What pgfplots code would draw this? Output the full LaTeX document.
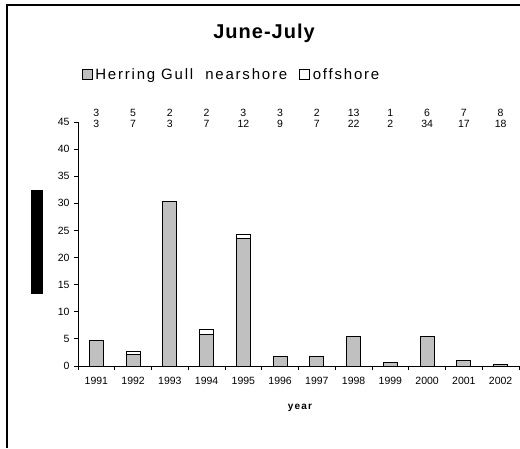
\documentclass[border=0pt]{standalone}
\usepackage{pgfplots}
\pgfplotsset{compat=1.18}
\usepackage{fontspec}
\setmainfont{Liberation Sans}
\newfontfamily\spaced[LetterSpace=12]{Liberation Sans}
\newfontfamily\titlefont[LetterSpace=5]{Liberation Sans}
\definecolor{bargray}{RGB}{192,192,192}

\begin{document}
\begin{tikzpicture}[x=1pt,y=1pt]
\useasboundingbox (0,0) rectangle (520,-448);
% frame of the chart area (cut by the page at right and bottom)
\draw[line width=1.5pt] (7,-448) -- (7,-5) -- (520,-5);
\node[font=\titlefont\bfseries\fontsize{20}{20}\selectfont] at (264,-33) {June-July};
\fill (31,-190) rectangle (43,-294);
\node[font=\spaced\bfseries\fontsize{10}{10}\selectfont] at (300,-408) {year};

\begin{axis}[
    at={(78pt,-366pt)}, anchor=south west,
    scale only axis, width=441pt, height=244pt,
    xmin=-0.5, xmax=11.5, ymin=0, ymax=45,
    axis x line=bottom, axis y line=left,
    axis line style={-, line width=0.8pt},
    ybar stacked, bar width=14pt,
    xtick={0,...,11},
    xticklabels={1991,1992,1993,1994,1995,1996,1997,1998,1999,2000,2001,2002},
    minor xtick={-0.5,0.5,...,11.5},
    major x tick style={draw=none},
    minor tick length=4pt,
    ytick={0,5,...,45}, major tick length=4pt,
    tick align=outside, tick style={black, line width=0.8pt},
    ticklabel style={font=\fontsize{10.5}{10.5}\selectfont},
    /pgf/number format/assume math mode=true,
    xticklabel style={yshift=-4pt},
    yticklabel style={xshift=-1pt},
    legend style={draw=none, fill=none, legend columns=2, at={(0.008,1.195)}, anchor=west,
        font=\spaced\fontsize{15}{15}\selectfont, inner sep=0pt,
        /tikz/every odd column/.append style={column sep=1pt},
        /tikz/every even column/.append style={column sep=10pt}},
    legend image code/.code={\draw[#1,draw=black,line width=0.6pt] (0pt,-4.5pt) rectangle (10pt,5pt);},
]
\addplot[fill=bargray, draw=black, line width=0.8pt] coordinates {
    (0,4.7) (1,2.2) (2,30.4) (3,5.9) (4,23.5) (5,1.8)
    (6,1.8) (7,5.4) (8,0.7) (9,5.4) (10,1.0) (11,0.3)
};
\addplot[fill=white, draw=black, line width=0.8pt] coordinates {
    (0,0) (1,0.5) (2,0) (3,0.8) (4,0.7) (5,0)
    (6,0) (7,0) (8,0) (9,0) (10,0) (11,0)
};
\legend{Herring Gull\ \ nearshore, offshore}
\end{axis}

% sample counts above the bars
\begin{axis}[
    at={(78pt,-366pt)}, anchor=south west,
    scale only axis, width=441pt, height=244pt,
    xmin=-0.5, xmax=11.5, ymin=0, ymax=45,
    separate axis lines,
    axis x line*=top, hide y axis,
    x axis line style={draw=none},
    xtick={0,...,11}, major tick length=0pt,
    xticklabels={{3\\3},{5\\7},{2\\3},{2\\7},{3\\12},{3\\9},{2\\7},{13\\22},{1\\2},{6\\34},{7\\17},{8\\18}},
    xticklabel style={align=center, font=\fontsize{10.5}{11}\selectfont, yshift=-9pt},
]
\end{axis}
\end{tikzpicture}
\end{document}
